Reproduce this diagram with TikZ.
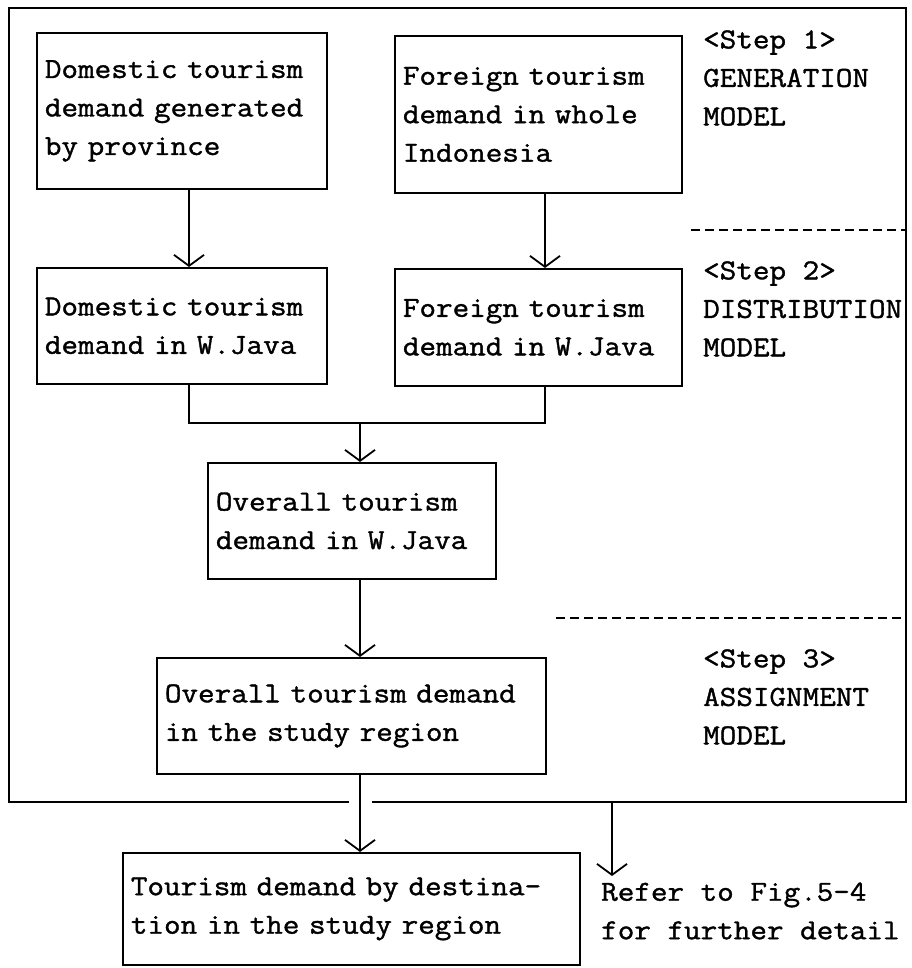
\documentclass[tikz,border=0pt]{standalone}
\usepackage{fontspec}
\newfontfamily\dotfont[FakeBold=1.3,FakeStretch=1.11]{Latin Modern Mono}
\usetikzlibrary{arrows.meta}
\begin{document}
\begin{tikzpicture}[x=1pt,y=-1pt,
  txt/.style={font=\dotfont\fontsize{29}{38.5}\selectfont},
  boxnode/.style={txt, draw, line width=1.8pt, anchor=north west, align=left, inner xsep=8pt, inner ysep=0pt},
  lbl/.style={txt, anchor=west, align=left, inner sep=0pt},
  conn/.style={line width=1.8pt},
  arr/.style={conn, -{Straight Barb[length=11pt,width=30pt,line width=1.8pt]}},
  sep/.style={line width=1.4pt, dash pattern=on 9pt off 5pt},
  frameline/.style={line width=1.5pt}]
\useasboundingbox[fill=white] (0,0) rectangle (911,968);

% outer frame
\draw[frameline] (349,802) -- (9,802) -- (9,8) -- (906,8) -- (906,802) -- (372,802);

% dashed separators
\draw[sep] (691,230) -- (906,230);
\draw[sep] (556,618) -- (906,618);

% boxes
\node[boxnode, minimum width=290pt, minimum height=156pt, text width=274pt] (b1) at (36,32) {Domestic tourism\\demand generated\\by province};
\node[boxnode, minimum width=287pt, minimum height=157pt, text width=271pt] (b2) at (394,35) {Foreign tourism\\demand in whole\\Indonesia};
\node[boxnode, minimum width=290pt, minimum height=116pt, text width=274pt] (b3) at (36,267) {Domestic tourism\\demand in W.Java};
\node[boxnode, minimum width=287pt, minimum height=117pt, text width=271pt] (b4) at (394,268) {Foreign tourism\\demand in W.Java};
\node[boxnode, minimum width=288pt, minimum height=116pt, text width=272pt] (b5) at (207,462) {Overall tourism\\demand in W.Java};
\node[boxnode, minimum width=389pt, minimum height=116pt, text width=373pt] (b6) at (156,657) {Overall tourism demand\\in the study region};
\node[boxnode, minimum width=457pt, minimum height=112pt, text width=441pt] (b7) at (122,852) {Tourism demand by destina-\\tion in the study region};

% labels
\node[lbl] (s1) at (703,78) {<Step 1>\\GENERATION\\MODEL};
\node[lbl] (s2) at (703,309) {<Step 2>\\DISTRIBUTION\\MODEL};
\node[lbl] (s3) at (703,697) {<Step 3>\\ASSIGNMENT\\MODEL};
\node[lbl] (rf) at (601,911) {Refer to Fig.5-4\\for further detail};

% connectors
\coordinate (xa) at (189,0);
\coordinate (xb) at (545,0);
\coordinate (xm) at (360,0);
\coordinate (jn) at (360,423);
\coordinate (rs) at (612,802);
\coordinate (re) at (612,876);
\draw[arr] (b1.south -| xa) -- (b3.north -| xa);
\draw[arr] (b2.south -| xb) -- (b4.north -| xb);
\draw[conn] (b3.south -| xa) |- (jn) -| (b4.south -| xb);
\draw[arr] (jn) -- (b5.north -| xm);
\draw[arr] (b5.south -| xm) -- (b6.north -| xm);
\draw[arr] (b6.south -| xm) -- (b7.north -| xm);
\draw[arr] (rs) -- (re);
\end{tikzpicture}
\end{document}
